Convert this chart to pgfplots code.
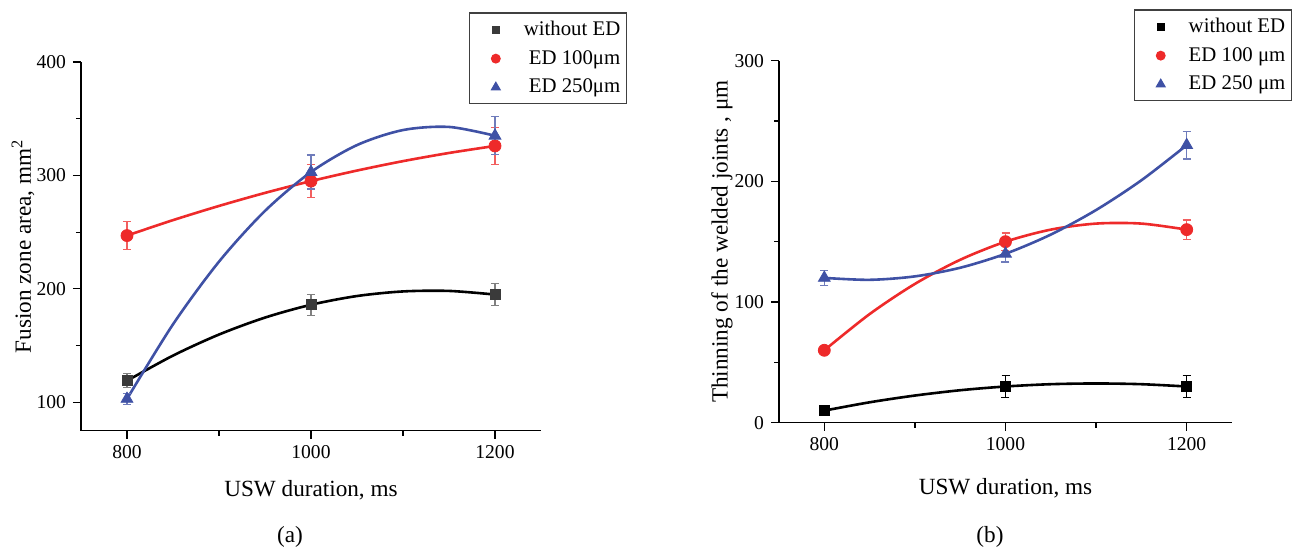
\documentclass[border=0pt]{standalone}
\usepackage{fontspec}
\setmainfont{Liberation Serif}
\usepackage{pgfplots}
\pgfplotsset{compat=1.18}
\definecolor{cred}{HTML}{EE2A2A}
\definecolor{cblue}{HTML}{3F51A5}
\definecolor{cgray}{HTML}{3A3A3A}
\pgfplotsset{
  mystyle/.style={
    scale only axis,
    axis lines*=left,
    axis line style={line width=0.75pt},
    tick align=outside,
    major tick length=4pt, minor tick length=2.5pt,
    every tick/.style={black, line width=0.6pt},
    xmin=750, xmax=1250, xtick={800,1000,1200}, minor xtick={900,1100},
    tick label style={font=\fontsize{9.8}{11}\selectfont},
    /pgf/number format/assume math mode=true,
    /pgf/number format/set thousands separator={},
    label style={font=\fontsize{11.6}{13}\selectfont},
    xlabel style={anchor=center},
    ylabel style={anchor=center},
    legend style={draw=black!75, line width=0.6pt, font=\fontsize{10.4}{12}\selectfont,
      inner xsep=1pt, inner ysep=2pt, row sep=1.9pt},
    clip=false,
  },
  limg/.style={legend image code/.code={%
      \path[draw=none, fill=none] (0pt,0pt) -- (24pt,0pt);
      \draw[##1, only marks, every mark/.append style={scale=0.72}] plot coordinates {(12pt,0pt)};}},
  ebar/.style={error bars/.cd, y dir=both, y explicit,
    error bar style={line width=0.6pt, #1},
    error mark options={rotate=90, mark size=2pt, line width=0.6pt, #1}},
  curve/.style={#1, line width=1.3pt, smooth, forget plot, no marks},
}
\begin{document}
\begin{tikzpicture}
\useasboundingbox (0,0) rectangle (646pt,275pt);
% ---------------- (a)
\begin{axis}[mystyle, at={(40.5pt,59.65pt)}, anchor=south west,
  width=230pt, height=184.35pt,
  ymin=75, ymax=400, ytick={100,200,300,400}, minor ytick={150,250,350},
  xlabel={USW duration, ms}, ylabel={Fusion zone area, mm\textsuperscript{2}},
  xlabel style={at={(axis description cs:0.5,-0.162)}},
  ylabel style={at={(axis description cs:-0.126,0.5)}},
  legend style={at={(0.844,1.1345)}, anchor=north west}, legend cell align=right]
\addplot[curve=black] coordinates {(800,119) (850,141.2) (900,159.75) (950,174.7) (1000,186) (1050,193.7) (1100,197.75) (1150,198.2) (1200,195)};
\addplot[curve=cred] coordinates {(800,247) (850,260.6) (900,273.1) (950,284.6) (1000,295) (1050,304.3) (1100,312.6) (1150,319.8) (1200,326)};
\addplot[curve=cblue] coordinates {(800,103) (850,168.75) (900,224) (950,268.75) (1000,303) (1050,326.75) (1100,340) (1150,342.75) (1200,335)};
\addplot[only marks, mark=square*, mark size=2.5pt, cgray, mark options={fill=cgray, draw=cgray}, limg, ebar=gray]
  coordinates {(800,119) +- (0,6.2) (1000,186) +- (0,9.3) (1200,195) +- (0,10)};
\addlegendentry{without ED}
\addplot[only marks, mark=*, mark size=3pt, cred, mark options={fill=cred, draw=cred}, limg, ebar=cred!75]
  coordinates {(800,247) +- (0,12.2) (1000,295) +- (0,14.7) (1200,326) +- (0,16.2)};
\addlegendentry{ED 100μm}
\addplot[only marks, mark=triangle*, mark size=3.4pt, cblue, mark options={fill=cblue, draw=cblue}, limg, ebar=cblue!75]
  coordinates {(800,103) +- (0,5.1) (1000,303) +- (0,15) (1200,335) +- (0,16.7)};
\addlegendentry{ED 250μm}
\end{axis}
% ---------------- (b)
\begin{axis}[mystyle, at={(389.5pt,63.65pt)}, anchor=south west,
  width=226.5pt, height=181pt,
  ymin=0, ymax=300, ytick={0,100,200,300}, minor ytick={50,150,250},
  xlabel={USW duration, ms}, ylabel={Thinning of the welded joints , μm},
  xlabel style={at={(axis description cs:0.5,-0.18)}},
  ylabel style={at={(axis description cs:-0.126,0.5)}},
  legend style={at={(0.784,1.1417)}, anchor=north west}, legend cell align=left]
\addplot[curve=black] coordinates {(800,10) (850,16.9) (900,22.5) (950,26.9) (1000,30) (1050,31.9) (1100,32.5) (1150,31.9) (1200,30)};
\addplot[curve=cred] coordinates {(800,60) (850,90) (900,115) (950,135) (1000,150) (1050,160) (1100,165) (1150,165) (1200,160)};
\addplot[curve=cblue] coordinates {(800,120) (850,118.4) (900,121.25) (950,128.4) (1000,140) (1050,155.9) (1100,176.25) (1150,200.9) (1200,230)};
\addplot[only marks, mark=square*, mark size=2.5pt, black, mark options={fill=black, draw=black}, limg, ebar=black]
  coordinates {(800,10) +- (0,2) (1000,30) +- (0,9) (1200,30) +- (0,9)};
\addlegendentry{without ED}
\addplot[only marks, mark=*, mark size=3pt, cred, mark options={fill=cred, draw=cred}, limg, ebar=cred!75]
  coordinates {(800,60) +- (0,2) (1000,150) +- (0,7.2) (1200,160) +- (0,8)};
\addlegendentry{ED 100 μm}
\addplot[only marks, mark=triangle*, mark size=3.4pt, cblue, mark options={fill=cblue, draw=cblue}, limg, ebar=cblue!75]
  coordinates {(800,120) +- (0,6) (1000,140) +- (0,6.9) (1200,230) +- (0,11.5)};
\addlegendentry{ED 250 μm}
\end{axis}
\node[font=\fontsize{11.6}{13}\selectfont] at (145pt,6.5pt) {(a)};
\node[font=\fontsize{11.6}{13}\selectfont] at (495pt,6.5pt) {(b)};
\end{tikzpicture}
\end{document}
